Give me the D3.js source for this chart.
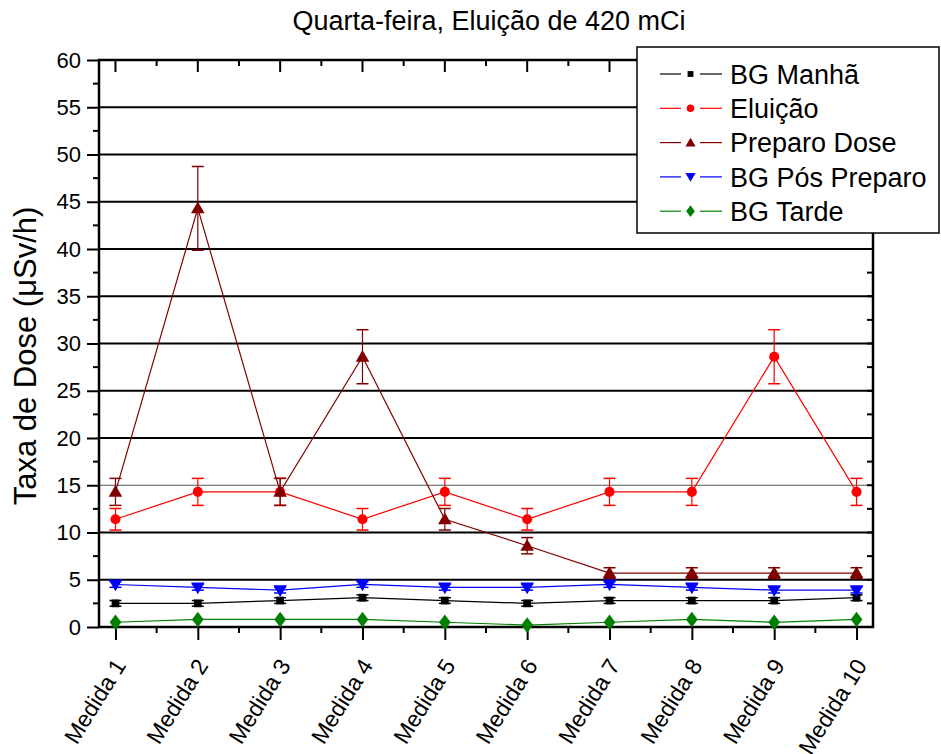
<!DOCTYPE html>
<html>
<head>
<meta charset="utf-8">
<script src="https://cdn.jsdelivr.net/npm/d3@7"></script>
<style>
  body { margin: 0; background: #fff; }
  text { font-family: Arial, "Liberation Sans", sans-serif; fill: #000; }
</style>
</head>
<body>
<div id="chart"></div>
<script>
// categories
var medidas = ["Medida 1", "Medida 2", "Medida 3", "Medida 4", "Medida 5",
               "Medida 6", "Medida 7", "Medida 8", "Medida 9", "Medida 10"];

// series values (µSv/h) and their errors
var bgManha      = [2.5, 2.5, 2.8, 3.1, 2.8, 2.5, 2.8, 2.8, 2.8, 3.1];
var bgManhaErr   = [0.3, 0.3, 0.3, 0.3, 0.3, 0.3, 0.3, 0.3, 0.3, 0.3];
var eluicao      = [11.4, 14.3, 14.3, 11.4, 14.3, 11.4, 14.3, 14.3, 28.6, 14.3];
var eluicaoErr   = [1.14, 1.43, 1.43, 1.14, 1.43, 1.14, 1.43, 1.43, 2.86, 1.43];
var preparo      = [14.3, 44.3, 14.3, 28.6, 11.4, 8.6, 5.7, 5.7, 5.7, 5.7];
var preparoErr   = [1.43, 4.43, 1.43, 2.86, 1.14, 0.86, 0.57, 0.57, 0.57, 0.57];
var bgPos        = [4.5, 4.2, 3.9, 4.5, 4.2, 4.2, 4.5, 4.2, 3.9, 3.9];
var bgPosErr     = [0.3, 0.3, 0.3, 0.3, 0.3, 0.3, 0.3, 0.3, 0.3, 0.3];
var bgTarde      = [0.5, 0.8, 0.8, 0.8, 0.5, 0.2, 0.5, 0.8, 0.5, 0.8];
var bgTardeErr   = [0, 0, 0, 0, 0, 0, 0, 0, 0, 0];

var yTicks = [0, 5, 10, 15, 20, 25, 30, 35, 40, 45, 50, 55, 60];

var series = [
  {name: "BG Manhã",       vals: bgManha, err: bgManhaErr, color: "#000000", sym: "square"},
  {name: "Eluição",        vals: eluicao, err: eluicaoErr, color: "#ff0000", sym: "circle"},
  {name: "Preparo Dose",   vals: preparo, err: preparoErr, color: "#800000", sym: "tri"},
  {name: "BG Pós Preparo", vals: bgPos,   err: bgPosErr,   color: "#0000ff", sym: "tridown"},
  {name: "BG Tarde",       vals: bgTarde, err: bgTardeErr, color: "#008000", sym: "diamond"}
];

var width = 941, height = 754;
var pLeft = 99, pRight = 873, pTop = 60, pBottom = 627;

var svg = d3.select("#chart").append("svg")
  .attr("width", width)
  .attr("height", height);

var x = d3.scaleLinear().domain([0.8, 10.2]).range([pLeft, pRight]);
var y = d3.scaleLinear().domain([0, 60]).range([pBottom, pTop]);

var majorX = d3.range(1, 11);
var minorX = d3.range(1.5, 10, 1);
var minorY = d3.range(2.5, 60, 5);

// gridlines
svg.append("g").selectAll("line")
  .data(yTicks.filter(function(d) { return d > 0 && d < 60; }))
  .enter().append("line")
  .attr("x1", pLeft).attr("x2", pRight)
  .attr("y1", function(d) { return y(d); })
  .attr("y2", function(d) { return y(d); })
  .attr("stroke", function(d) { return d == 15 ? "#555" : "#000"; })
  .attr("stroke-width", function(d) { return d == 15 ? 1 : 2; });

// left axis (outward ticks)
var leftAxis = svg.append("g")
  .attr("transform", "translate(" + pLeft + ",0)")
  .call(d3.axisLeft(y).tickValues(yTicks).tickSize(12).tickPadding(6));
leftAxis.select(".domain").remove();
leftAxis.selectAll(".tick line").attr("stroke-width", 2);
leftAxis.selectAll("text").style("font-size", "22px");
svg.append("g").selectAll("line").data(minorY).enter().append("line")
  .attr("x1", pLeft - 6).attr("x2", pLeft)
  .attr("y1", function(d) { return y(d); }).attr("y2", function(d) { return y(d); })
  .attr("stroke", "#000").attr("stroke-width", 2);

// right axis (inward ticks)
svg.append("g").selectAll("line").data(yTicks.concat(minorY)).enter().append("line")
  .attr("x1", pRight - 6).attr("x2", pRight)
  .attr("y1", function(d) { return y(d); }).attr("y2", function(d) { return y(d); })
  .attr("stroke", "#000").attr("stroke-width", 2);

// bottom axis
var bottomAxis = svg.append("g")
  .attr("transform", "translate(0," + pBottom + ")")
  .call(d3.axisBottom(x).tickValues(majorX).tickSize(13)
    .tickFormat(function(d) { return medidas[d - 1]; }));
bottomAxis.select(".domain").remove();
bottomAxis.selectAll(".tick line").attr("stroke-width", 2);
bottomAxis.selectAll("text")
  .style("font-size", "23px")
  .attr("text-anchor", "end")
  .attr("dy", "0.35em")
  .attr("transform", "translate(4,34) rotate(-58)")
  .attr("y", 0).attr("x", 0);
svg.append("g").selectAll("line").data(minorX).enter().append("line")
  .attr("x1", function(d) { return x(d); }).attr("x2", function(d) { return x(d); })
  .attr("y1", pBottom).attr("y2", pBottom + 6)
  .attr("stroke", "#000").attr("stroke-width", 2);

// top axis (inward ticks)
svg.append("g").selectAll("line").data(majorX).enter().append("line")
  .attr("x1", function(d) { return x(d); }).attr("x2", function(d) { return x(d); })
  .attr("y1", pTop).attr("y2", pTop + 12)
  .attr("stroke", "#000").attr("stroke-width", 2);
svg.append("g").selectAll("line").data(minorX).enter().append("line")
  .attr("x1", function(d) { return x(d); }).attr("x2", function(d) { return x(d); })
  .attr("y1", pTop).attr("y2", pTop + 6)
  .attr("stroke", "#000").attr("stroke-width", 2);

// frame
svg.append("rect")
  .attr("x", pLeft).attr("y", pTop)
  .attr("width", pRight - pLeft).attr("height", pBottom - pTop)
  .attr("fill", "none").attr("stroke", "#000").attr("stroke-width", 2.5);

function symbolPath(sym) {
  var s;
  if (sym == "square") s = d3.symbol().type(d3.symbolSquare).size(60);
  else if (sym == "circle") s = d3.symbol().type(d3.symbolCircle).size(80);
  else if (sym == "tri") s = d3.symbol().type(d3.symbolTriangle).size(80);
  else if (sym == "tridown") s = d3.symbol().type(d3.symbolTriangle).size(80);
  else s = d3.symbol().type(d3.symbolDiamond).size(70);
  return s();
}
function symbolTransform(sym, px, py) {
  var t = "translate(" + px + "," + py + ")";
  if (sym == "tri") t += " translate(0,1)";
  if (sym == "tridown") t += " rotate(180) translate(0,1)";
  if (sym == "diamond") t += " scale(1.3,1)";
  return t;
}

var line = d3.line()
  .x(function(d, i) { return x(i + 1); })
  .y(function(d) { return y(d); });

series.forEach(function(s) {
  var g = svg.append("g");
  g.append("path")
    .datum(s.vals)
    .attr("d", line)
    .attr("fill", "none")
    .attr("stroke", s.color)
    .attr("stroke-width", 1.2);

  // error bars
  var eb = g.selectAll(".eb").data(s.vals).enter().append("g")
    .filter(function(d, i) { return s.err[i] > 0; });
  eb.append("line")
    .attr("x1", function(d, i) { return x(i + 1); })
    .attr("x2", function(d, i) { return x(i + 1); })
    .attr("y1", function(d, i) { return y(d - s.err[i]); })
    .attr("y2", function(d, i) { return y(d + s.err[i]); })
    .attr("stroke", s.color).attr("stroke-width", 1.2);
  [-1, 1].forEach(function(sign) {
    eb.append("line")
      .attr("x1", function(d, i) { return x(i + 1) - 6; })
      .attr("x2", function(d, i) { return x(i + 1) + 6; })
      .attr("y1", function(d, i) { return y(d + sign * s.err[i]); })
      .attr("y2", function(d, i) { return y(d + sign * s.err[i]); })
      .attr("stroke", s.color).attr("stroke-width", 1.5);
  });

  g.selectAll(".pt").data(s.vals).enter().append("path")
    .attr("d", symbolPath(s.sym))
    .attr("transform", function(d, i) { return symbolTransform(s.sym, x(i + 1), y(d)); })
    .attr("fill", s.color);
});

// title
svg.append("text")
  .attr("x", 489).attr("y", 30)
  .attr("text-anchor", "middle")
  .style("font-size", "27px")
  .text("Quarta-feira, Eluição de 420 mCi");

// y label
svg.append("text")
  .attr("transform", "translate(36,356) rotate(-90)")
  .attr("text-anchor", "middle")
  .style("font-size", "31px")
  .text("Taxa de Dose (μSv/h)");

// legend
var legend = svg.append("g");
legend.append("rect")
  .attr("x", 637).attr("y", 47)
  .attr("width", 302).attr("height", 186)
  .attr("fill", "#fff").attr("stroke", "#000").attr("stroke-width", 1.5);
series.forEach(function(s, i) {
  var ly = 74 + i * 34.3;
  legend.append("line")
    .attr("x1", 660).attr("x2", 681).attr("y1", ly).attr("y2", ly)
    .attr("stroke", s.color).attr("stroke-width", 1.2);
  legend.append("line")
    .attr("x1", 700).attr("x2", 722).attr("y1", ly).attr("y2", ly)
    .attr("stroke", s.color).attr("stroke-width", 1.2);
  legend.append("path")
    .attr("d", symbolPath(s.sym))
    .attr("transform", symbolTransform(s.sym, 690.5, ly) + " scale(0.75)")
    .attr("fill", s.color);
  legend.append("text")
    .attr("x", 730).attr("y", ly)
    .attr("dy", "0.36em")
    .style("font-size", "27px")
    .text(s.name);
});
</script>
</body>
</html>
